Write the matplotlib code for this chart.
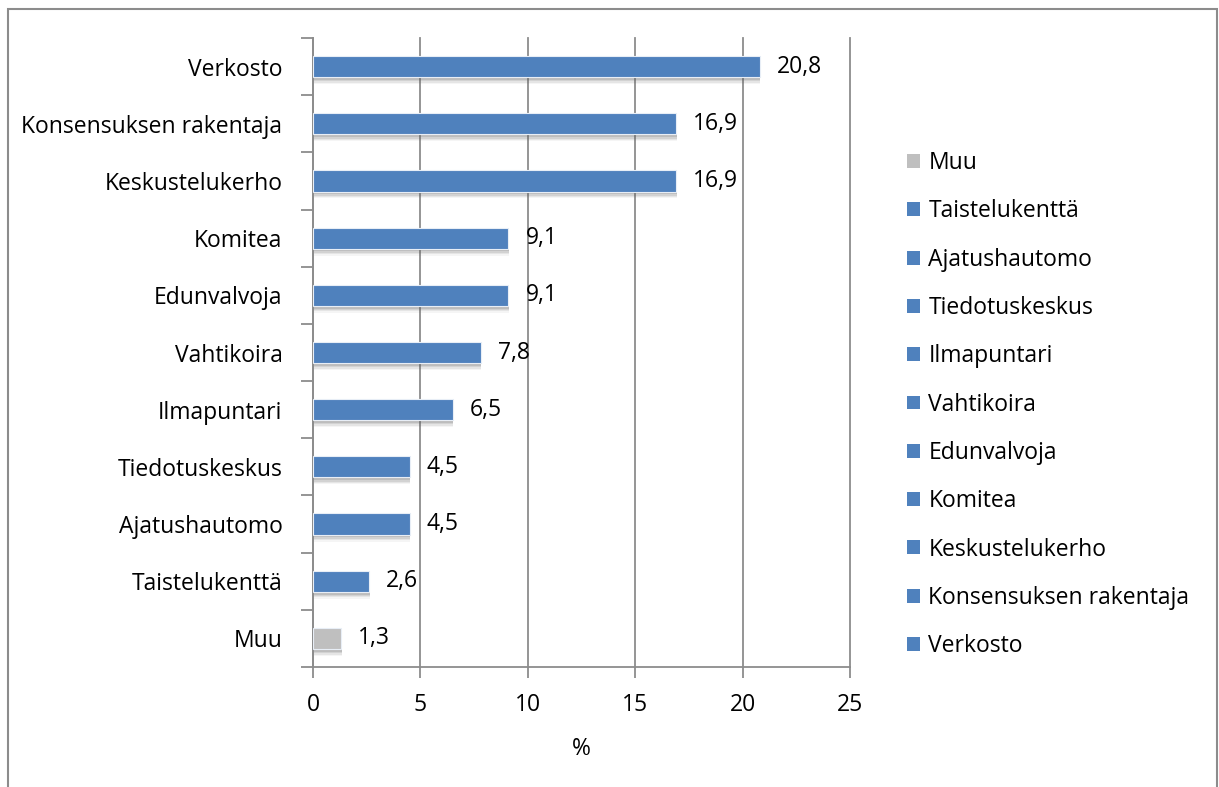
import matplotlib.pyplot as plt
import matplotlib.patheffects as pe
from matplotlib.patches import Patch, Rectangle

categories = ["Muu", "Taistelukenttä", "Ajatushautomo", "Tiedotuskeskus", "Ilmapuntari",
              "Vahtikoira", "Edunvalvoja", "Komitea", "Keskustelukerho",
              "Konsensuksen rakentaja", "Verkosto"]
values = [1.3, 2.6, 4.5, 4.5, 6.5, 7.8, 9.1, 9.1, 16.9, 16.9, 20.8]
bar_colors = ["#BFBFBF"] + ["#4F81BD"] * 10
xticks = [0, 5, 10, 15, 20, 25]

plt.rcParams["font.family"] = ["Open Sans", "DejaVu Sans"]
FS = 16.5

fig = plt.figure(figsize=(12.19, 7.87), dpi=100)
fig.patch.set_facecolor("white")
# outer chart frame
fig.add_artist(Rectangle((8 / 1219, -0.05), 1209 / 1219, 1 - 9 / 787 + 0.05,
                         transform=fig.transFigure, fill=False,
                         edgecolor="#8C8C8C", linewidth=1.5))

ax = fig.add_axes([313 / 1219, 1 - 667 / 787, (850 - 313) / 1219, (667 - 38) / 787])

y = range(len(categories))
# soft drop shadow under the bars
shadow = [pe.SimplePatchShadow(offset=(0.5, -d), alpha=a, shadow_rgbFace="#606060")
          for d, a in [(5, 0.06), (4, 0.1), (3, 0.14), (2, 0.18)]] + [pe.Normal()]
bars = ax.barh(y, values, height=0.37, color=bar_colors, edgecolor="#E8EEF6",
               linewidth=0.8, zorder=3)
for b in bars:
    b.set_path_effects(shadow)

for yi, v in zip(y, values):
    ax.text(v + 0.8, yi, f"{v:.1f}".replace(".", ","), va="center", ha="left",
            fontsize=FS, color="black", zorder=4)

ax.set_xlim(0, 25)
ax.set_ylim(-0.5, len(categories) - 0.5)
ax.set_xticks(xticks)
ax.set_xticklabels([str(t) for t in xticks])
ax.set_yticks(list(y))
ax.set_yticklabels(categories)
ax.set_yticks([i - 0.5 for i in range(len(categories) + 1)], minor=True)
ax.tick_params(axis="y", which="major", length=0, pad=22, labelsize=FS)
ax.tick_params(axis="y", which="minor", length=9, width=1.3, color="#8C8C8C")
ax.tick_params(axis="x", length=8, width=1.3, color="#8C8C8C", pad=11, labelsize=FS)

ax.grid(axis="x", color="#8C8C8C", linewidth=1.3, zorder=0)
for gl in ax.get_xgridlines():
    gl.set_clip_on(False)
ax.set_axisbelow(True)
for side in ["top", "right"]:
    ax.spines[side].set_visible(False)
for side in ["left", "bottom"]:
    ax.spines[side].set_color("#8C8C8C")
    ax.spines[side].set_linewidth(1.3)

ax.set_xlabel("%", fontsize=FS, labelpad=14)

handles = [Patch(facecolor=c, edgecolor="none") for c in bar_colors]
fig.legend(handles, categories, loc="upper left", bbox_to_anchor=(898 / 1219, 1 - 142 / 787),
           frameon=False, fontsize=FS, handlelength=0.55, handleheight=0.55,
           handletextpad=0.38, labelspacing=1.06, borderaxespad=0)

fig.savefig("out.png", dpi=100)
